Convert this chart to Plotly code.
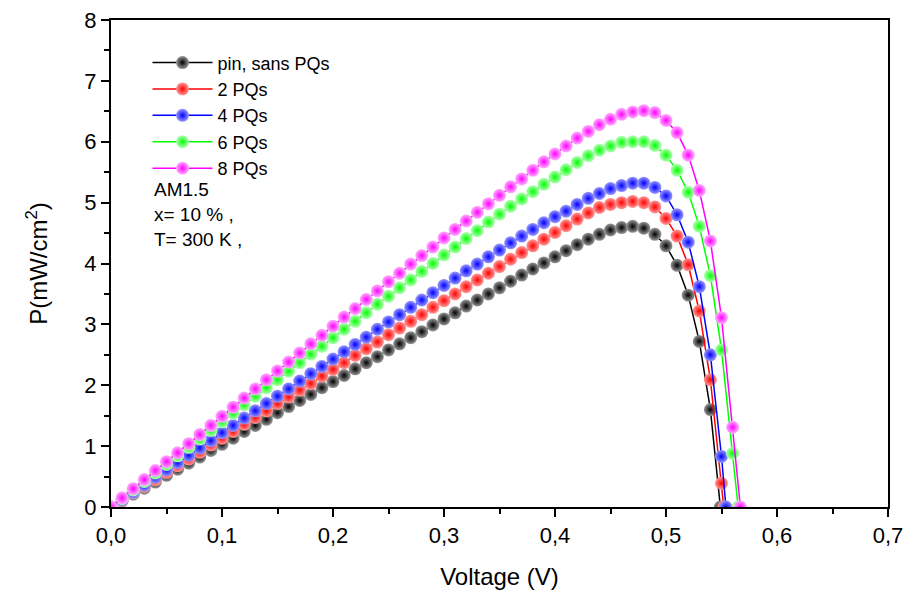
import plotly.graph_objects as go

# voltage grid (V) shared by all curves, last point of each curve is its Voc
voltage = [0.00, 0.01, 0.02, 0.03, 0.04, 0.05, 0.06, 0.07, 0.08, 0.09,
           0.10, 0.11, 0.12, 0.13, 0.14, 0.15, 0.16, 0.17, 0.18, 0.19,
           0.20, 0.21, 0.22, 0.23, 0.24, 0.25, 0.26, 0.27, 0.28, 0.29,
           0.30, 0.31, 0.32, 0.33, 0.34, 0.35, 0.36, 0.37, 0.38, 0.39,
           0.40, 0.41, 0.42, 0.43, 0.44, 0.45, 0.46, 0.47, 0.48, 0.49,
           0.50, 0.51, 0.52, 0.53, 0.54, 0.55, 0.56]

voc_pin = 0.549
voc_2pq = 0.552
voc_4pq = 0.554
voc_6pq = 0.565
voc_8pq = 0.567

p_pin = [0, 0.10, 0.21, 0.31, 0.41, 0.52, 0.62, 0.72, 0.82, 0.93,
         1.03, 1.13, 1.24, 1.34, 1.44, 1.55, 1.65, 1.75, 1.85, 1.96,
         2.06, 2.16, 2.27, 2.37, 2.47, 2.58, 2.68, 2.78, 2.88, 2.99,
         3.09, 3.19, 3.30, 3.40, 3.50, 3.60, 3.71, 3.81, 3.91, 4.01,
         4.11, 4.21, 4.31, 4.40, 4.48, 4.55, 4.59, 4.61, 4.58, 4.48,
         4.29, 3.97, 3.48, 2.72, 1.60, 0]

p_2pq = [0, 0.11, 0.23, 0.34, 0.45, 0.57, 0.68, 0.79, 0.90, 1.02,
         1.13, 1.24, 1.36, 1.47, 1.58, 1.70, 1.81, 1.92, 2.03, 2.15,
         2.26, 2.37, 2.49, 2.60, 2.71, 2.83, 2.94, 3.05, 3.16, 3.28,
         3.39, 3.50, 3.62, 3.73, 3.84, 3.95, 4.07, 4.18, 4.29, 4.40,
         4.51, 4.62, 4.73, 4.83, 4.92, 4.97, 5.00, 5.02, 5.00, 4.93,
         4.74, 4.45, 3.98, 3.22, 2.09, 0.39, 0]

p_4pq = [0, 0.12, 0.24, 0.36, 0.49, 0.61, 0.73, 0.85, 0.97, 1.09,
         1.22, 1.34, 1.46, 1.58, 1.70, 1.82, 1.94, 2.07, 2.19, 2.31,
         2.43, 2.55, 2.67, 2.79, 2.92, 3.04, 3.16, 3.28, 3.40, 3.52,
         3.64, 3.76, 3.88, 3.99, 4.11, 4.22, 4.34, 4.45, 4.56, 4.67,
         4.77, 4.86, 4.97, 5.07, 5.15, 5.23, 5.28, 5.32, 5.32, 5.25,
         5.11, 4.80, 4.35, 3.62, 2.50, 0.83, 0]

p_6pq = [0, 0.14, 0.28, 0.42, 0.56, 0.70, 0.84, 0.98, 1.12, 1.26,
         1.40, 1.54, 1.68, 1.82, 1.96, 2.09, 2.23, 2.37, 2.51, 2.64,
         2.78, 2.92, 3.05, 3.19, 3.33, 3.46, 3.60, 3.73, 3.87, 4.00,
         4.14, 4.27, 4.41, 4.54, 4.68, 4.81, 4.94, 5.06, 5.18, 5.30,
         5.42, 5.54, 5.66, 5.77, 5.86, 5.93, 5.99, 6.00, 6.00, 5.94,
         5.78, 5.53, 5.17, 4.61, 3.80, 2.58, 0.88, 0]

p_8pq = [0, 0.15, 0.30, 0.45, 0.60, 0.745, 0.89, 1.04, 1.19, 1.34,
         1.49, 1.64, 1.79, 1.94, 2.09, 2.235, 2.38, 2.53, 2.68, 2.82,
         2.97, 3.12, 3.26, 3.41, 3.55, 3.70, 3.84, 3.99, 4.13, 4.27,
         4.42, 4.56, 4.70, 4.84, 4.98, 5.12, 5.26, 5.39, 5.53, 5.67,
         5.80, 5.93, 6.06, 6.17, 6.28, 6.37, 6.45, 6.49, 6.51, 6.48,
         6.35, 6.15, 5.78, 5.20, 4.37, 3.11, 1.31, 0]

series = [
    ('pin, sans PQs', p_pin, voc_pin, '#000000', '#9a9a9a'),
    ('2 PQs', p_2pq, voc_2pq, '#ff0000', '#ff9a9a'),
    ('4 PQs', p_4pq, voc_4pq, '#0000ff', '#9a9aff'),
    ('6 PQs', p_6pq, voc_6pq, '#00ff00', '#b4ffb4'),
    ('8 PQs', p_8pq, voc_8pq, '#ff00ff', '#ffb0ff'),
]

FONT = 'Arial, Liberation Sans, sans-serif'

fig = go.Figure()
for name, power, voc, color, shine in series:
    x = voltage[:len(power) - 1] + [voc]
    fig.add_trace(go.Scatter(
        x=x, y=power, name=name, mode='lines+markers',
        line=dict(color=color, width=1.5),
        marker=dict(size=13, color=shine, line=dict(width=0),
                    gradient=dict(type='radial', color=color)),
    ))

# text block under the legend
notes = ['AM1.5', 'x= 10 % ,', 'T= 300 K ,']
for i, txt in enumerate(notes):
    fig.add_annotation(text=txt, xref='paper', yref='paper',
                       x=0.053, y=0.651 - i * 0.0505, xanchor='left', yanchor='middle',
                       showarrow=False, font=dict(size=19, color='black', family=FONT))

fig.update_layout(
    width=910, height=593,
    margin=dict(l=111, r=22, t=20, b=86),
    plot_bgcolor='white', paper_bgcolor='white',
    separators=',.',
    font=dict(family=FONT, color='black'),
    showlegend=True,
    legend=dict(x=0.047, y=0.95, xanchor='left', yanchor='top',
                font=dict(size=18), bgcolor='rgba(0,0,0,0)',
                tracegroupgap=0, itemwidth=60),
)
fig.update_xaxes(
    range=[0, 0.7], dtick=0.1, tickformat='.1f', automargin=False,
    showgrid=False, zeroline=False,
    showline=True, linecolor='black', linewidth=2, mirror=True,
    ticks='outside', ticklen=8, tickwidth=2, tickcolor='black',
    minor=dict(ticks='outside', ticklen=5, tickwidth=2, tickcolor='black', dtick=0.05),
    tickfont=dict(size=22),
    title=dict(text='Voltage (V)', font=dict(size=24), standoff=21),
)
fig.update_yaxes(
    range=[0, 8], dtick=1, automargin=False,
    showgrid=False, zeroline=False,
    showline=True, linecolor='black', linewidth=2, mirror=True,
    ticks='outside', ticklen=8, tickwidth=2, tickcolor='black',
    minor=dict(ticks='outside', ticklen=5, tickwidth=2, tickcolor='black', dtick=0.5),
    tickfont=dict(size=22),
    title=dict(text='P(mW/cm<sup>2</sup>)', font=dict(size=24), standoff=30),
)

# no modebar over the top axis, and no default 8px body margin
fig.write_html('out.html', config={'displayModeBar': False},
               post_script="document.body.style.margin='0';")
